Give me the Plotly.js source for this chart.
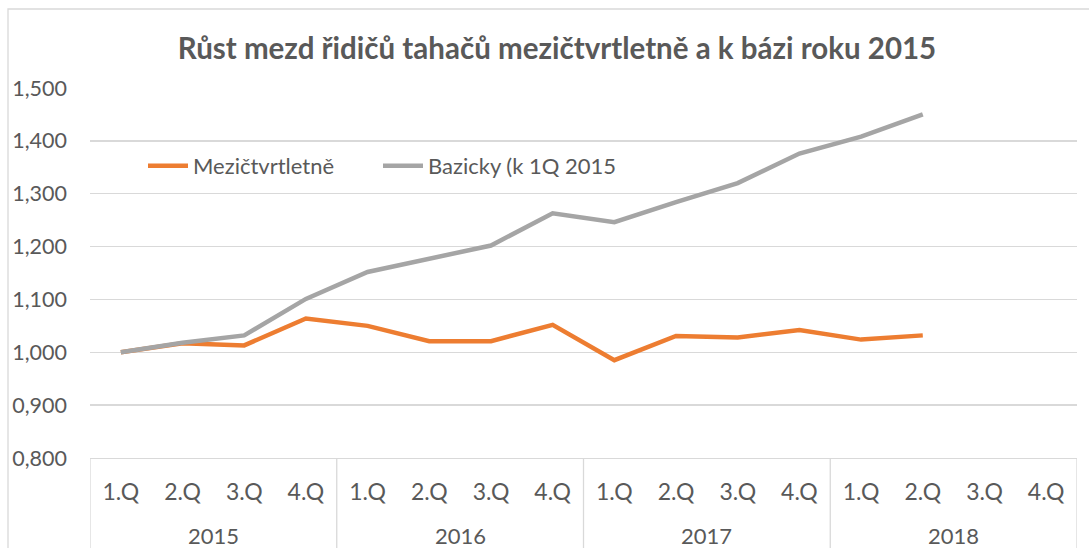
<!DOCTYPE html>
<html>
<head>
<meta charset="utf-8">
<script src="https://cdn.plot.ly/plotly-3.0.1.min.js"></script>
<style>html,body{margin:0;padding:0;background:#fff;}#chart{width:1089px;height:548px;}</style>
</head>
<body>
<div id="chart"></div>
<script>
// Data
const quarters = ["1.Q","2.Q","3.Q","4.Q","1.Q","2.Q","3.Q","4.Q","1.Q","2.Q","3.Q","4.Q","1.Q","2.Q","3.Q","4.Q"];
const years = ["2015","2016","2017","2018"];
const mezictvrtletne = [1.000, 1.017, 1.013, 1.064, 1.050, 1.021, 1.021, 1.052, 0.985, 1.031, 1.028, 1.042, 1.024, 1.032];
const bazicky = [1.000, 1.018, 1.032, 1.101, 1.152, 1.177, 1.202, 1.263, 1.246, 1.284, 1.320, 1.376, 1.408, 1.450];
const yTicks = [0.8, 0.9, 1.0, 1.1, 1.2, 1.3, 1.4, 1.5];

const idx = quarters.map((q, i) => i);
const FONT = "Lato, 'Open Sans', sans-serif";
const TXT = "#595959";
const GRID = "#D9D9D9";

const traces = [
  {
    x: idx.slice(0, mezictvrtletne.length), y: mezictvrtletne,
    type: "scatter", mode: "lines", name: "Mezičtvrtletně",
    line: {color: "#ED7D31", width: 4.5}, legend: "legend"
  },
  {
    x: idx.slice(0, bazicky.length), y: bazicky,
    type: "scatter", mode: "lines", name: "Bazicky (k 1Q 2015",
    line: {color: "#A5A5A5", width: 4.5}, legend: "legend2"
  }
];

const plotTop = 88, plotBottom = 458, H = 548;
const plotH = plotBottom - plotTop;
const perYear = quarters.length / years.length;

const shapes = [];
// vertical dividers between years in the category axis box
for (let k = 0; k <= years.length; k++) {
  shapes.push({
    type: "line", xref: "x", yref: "paper",
    x0: k * perYear - 0.5, x1: k * perYear - 0.5,
    y0: 0, y1: -(H - plotBottom + 5) / plotH,
    line: {color: GRID, width: 1.3}
  });
}
// outer chart border
shapes.push({
  type: "rect", xref: "paper", yref: "paper",
  x0: (8 - 90) / 987, x1: (1095 - 90) / 987,
  y0: -(560 - plotBottom) / plotH, y1: (plotBottom - 9) / plotH,
  line: {color: GRID, width: 1.3}, fillcolor: "rgba(0,0,0,0)", layer: "below"
});

const annotations = years.map((yr, k) => ({
  text: yr, xref: "x", yref: "paper",
  x: k * perYear + (perYear - 1) / 2,
  y: -(535 - plotBottom) / plotH, yanchor: "middle", xanchor: "center",
  showarrow: false, font: {family: FONT, size: 22, color: TXT}
}));

const legendBase = {
  orientation: "h", xanchor: "left",
  y: (plotBottom - 166) / plotH, yanchor: "middle",
  font: {family: FONT, size: 22, color: TXT},
  bgcolor: "rgba(0,0,0,0)", itemwidth: 40
};

const layout = {
  width: 1089, height: 548,
  margin: {l: 90, r: 12, t: plotTop, b: H - plotBottom, pad: 0},
  paper_bgcolor: "#fff", plot_bgcolor: "#fff",
  separators: ", ",
  showlegend: true,
  title: {
    text: "<b>Růst mezd řidičů tahačů mezičtvrtletně a k bázi roku 2015</b>",
    font: {family: FONT, size: 29.5, color: TXT},
    x: 557 / 1089, xref: "container", xanchor: "center",
    y: 1 - 49 / 548, yref: "container", yanchor: "middle"
  },
  legend: Object.assign({}, legendBase, {x: (143 - 90) / 987}),
  legend2: Object.assign({}, legendBase, {x: (378 - 90) / 987}),
  xaxis: {
    range: [-0.5, quarters.length - 0.5],
    tickmode: "array", tickvals: idx, ticktext: quarters,
    ticks: "outside", ticklen: 13, tickcolor: "rgba(0,0,0,0)",
    showgrid: false, zeroline: false,
    showline: true, linecolor: GRID, linewidth: 1.3,
    tickfont: {family: FONT, size: 23, color: TXT},
    fixedrange: true
  },
  yaxis: {
    range: [0.8, 1.5],
    tickmode: "array", tickvals: yTicks, tickformat: ".3f",
    showgrid: true, gridcolor: GRID, gridwidth: 1.3,
    zeroline: false, showline: false,
    ticks: "", ticklabelstandoff: 22,
    tickfont: {family: FONT, size: 21.5, color: TXT},
    fixedrange: true
  },
  shapes: shapes,
  annotations: annotations,
  hovermode: false
};

Plotly.newPlot("chart", traces, layout, {displayModeBar: false, staticPlot: true});
</script>
</body>
</html>
